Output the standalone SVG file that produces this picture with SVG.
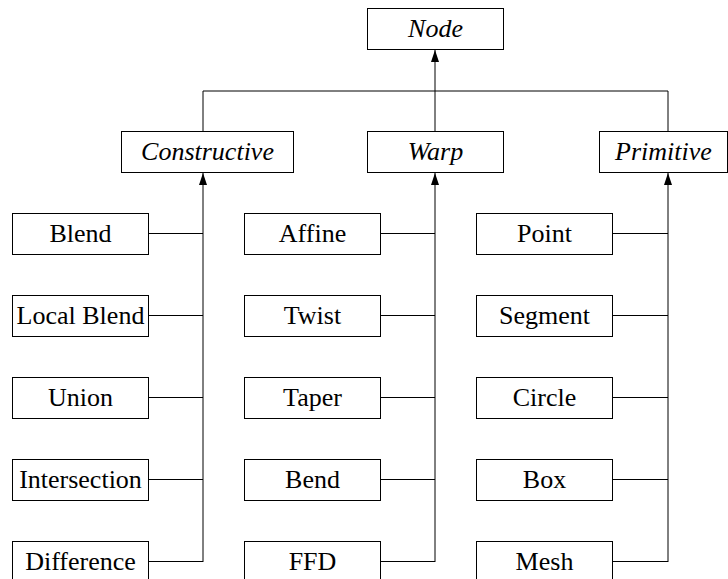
<svg xmlns="http://www.w3.org/2000/svg" width="728" height="579" viewBox="0 0 728 579">
<style>
.box{fill:#fff;stroke:#000;stroke-width:1}
.t{fill:#000;text-anchor:middle}
.i{font-style:italic}
.c{fill:none;stroke:#000;stroke-width:1}
</style>
<defs>
<marker id="ah" viewBox="0 0 12 8" refX="12" refY="4" markerWidth="12" markerHeight="8" markerUnits="userSpaceOnUse" orient="auto">
<path d="M0,0 L12,4 L0,8 Z" fill="#000"/>
</marker>
</defs>
<rect width="728" height="579" fill="#fff"/>
<g id="connectors">
<path class="c" d="M203,131 V91 H668 V132"/>
<path class="c" d="M435,131 V50" marker-end="url(#ah)"/>
<path class="c" d="M203,562 V173" marker-end="url(#ah)"/>
<path class="c" d="M435,562 V173" marker-end="url(#ah)"/>
<path class="c" d="M668,562 V173" marker-end="url(#ah)"/>
<path class="c" d="M148,233.5 H203 M148,315.5 H203 M148,397.5 H203 M148,479.5 H203 M148,561.5 H203"/>
<path class="c" d="M381,233.5 H435 M381,315.5 H435 M381,397.5 H435 M381,479.5 H435 M381,561.5 H435"/>
<path class="c" d="M613,233.5 H668 M613,315.5 H668 M613,397.5 H668 M613,479.5 H668 M613,561.5 H668"/>
</g>
<g font-family="Liberation Serif" font-size="26">
<g id="node-node"><rect class="box" x="367.5" y="8.5" width="136" height="41"/><text class="t i" x="435.5" y="37">Node</text></g>
<g id="node-constructive"><rect class="box" x="121.5" y="131.5" width="172" height="41"/><text class="t i" x="207.5" y="160">Constructive</text></g>
<g id="node-warp"><rect class="box" x="367.5" y="131.5" width="136" height="41"/><text class="t i" x="435.5" y="160">Warp</text></g>
<g id="node-primitive"><rect class="box" x="599.5" y="131.5" width="128" height="41"/><text class="t i" x="663.5" y="160">Primitive</text></g>

<g id="node-blend"><rect class="box" x="12.5" y="213.5" width="136" height="41"/><text class="t" x="80.5" y="242">Blend</text></g>
<g id="node-localblend"><rect class="box" x="12.5" y="295.5" width="136" height="41"/><text class="t" x="80.5" y="324">Local Blend</text></g>
<g id="node-union"><rect class="box" x="12.5" y="377.5" width="136" height="41"/><text class="t" x="80.5" y="406">Union</text></g>
<g id="node-intersection"><rect class="box" x="12.5" y="459.5" width="136" height="41"/><text class="t" x="80.5" y="488">Intersection</text></g>
<g id="node-difference"><rect class="box" x="12.5" y="541.5" width="136" height="41"/><text class="t" x="80.5" y="570">Difference</text></g>

<g id="node-affine"><rect class="box" x="244.5" y="213.5" width="136" height="41"/><text class="t" x="312.5" y="242">Affine</text></g>
<g id="node-twist"><rect class="box" x="244.5" y="295.5" width="136" height="41"/><text class="t" x="312.5" y="324">Twist</text></g>
<g id="node-taper"><rect class="box" x="244.5" y="377.5" width="136" height="41"/><text class="t" x="312.5" y="406">Taper</text></g>
<g id="node-bend"><rect class="box" x="244.5" y="459.5" width="136" height="41"/><text class="t" x="312.5" y="488">Bend</text></g>
<g id="node-ffd"><rect class="box" x="244.5" y="541.5" width="136" height="41"/><text class="t" x="312.5" y="570">FFD</text></g>

<g id="node-point"><rect class="box" x="476.5" y="213.5" width="136" height="41"/><text class="t" x="544.5" y="242">Point</text></g>
<g id="node-segment"><rect class="box" x="476.5" y="295.5" width="136" height="41"/><text class="t" x="544.5" y="324">Segment</text></g>
<g id="node-circle"><rect class="box" x="476.5" y="377.5" width="136" height="41"/><text class="t" x="544.5" y="406">Circle</text></g>
<g id="node-box"><rect class="box" x="476.5" y="459.5" width="136" height="41"/><text class="t" x="544.5" y="488">Box</text></g>
<g id="node-mesh"><rect class="box" x="476.5" y="541.5" width="136" height="41"/><text class="t" x="544.5" y="570">Mesh</text></g>
</g>
</svg>
